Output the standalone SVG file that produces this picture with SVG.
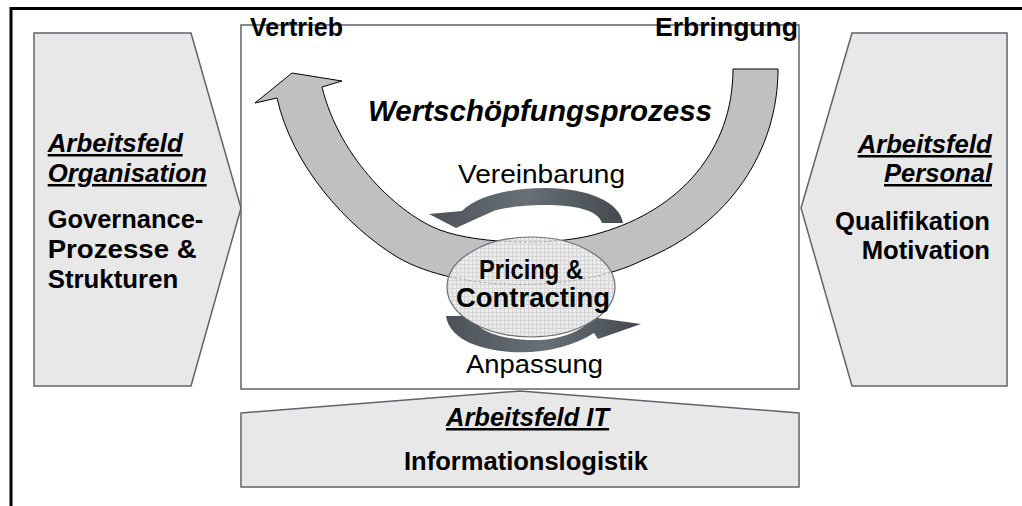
<svg xmlns="http://www.w3.org/2000/svg" width="1022" height="506" viewBox="0 0 1022 506">
<style>
.frame{fill:none;stroke:#000;stroke-width:3}
.field{fill:#e8e8e8;stroke:#5f6468;stroke-width:1.5}
.box{fill:#fff;stroke:#5f6468;stroke-width:1.5}
.band{fill:#c0c0c0;stroke:#000;stroke-width:1}
.rot{fill:url(#rotg);stroke:none}
.t{font-family:"Liberation Sans",Arial,sans-serif;fill:#000}
.b{font-weight:bold}
.bi{font-weight:bold;font-style:italic}
.u{text-decoration:underline}
</style>
<defs>
<pattern id="grid" width="4" height="4" patternUnits="userSpaceOnUse">
<rect width="4" height="4" fill="#ececec"/>
<path d="M0 0.5H4M0.5 0V4" stroke="#d6d6d6" stroke-width="1"/>
</pattern>
<linearGradient id="rotg" x1="0" y1="0" x2="1" y2="0">
<stop offset="0" stop-color="#4c5257"/>
<stop offset="0.5" stop-color="#687075"/>
<stop offset="1" stop-color="#444a4f"/>
</linearGradient>
<clipPath id="ellclip"><ellipse cx="531" cy="287" rx="84" ry="50"/></clipPath>
</defs>

<path class="frame" d="M11 506V8.5H1022"/>

<g id="node-organisation">
<polygon class="field" points="34,33 191,33 241,208 191,386 34,386"/>
<text class="t bi u" x="47.7" y="152" font-size="25" textLength="135" lengthAdjust="spacingAndGlyphs">Arbeitsfeld</text>
<text class="t bi u" x="47.7" y="182" font-size="25" textLength="159" lengthAdjust="spacingAndGlyphs">Organisation</text>
<text class="t b" x="47.7" y="228" font-size="25" textLength="155.6" lengthAdjust="spacingAndGlyphs">Governance-</text>
<text class="t b" x="47.7" y="258" font-size="25" textLength="149" lengthAdjust="spacingAndGlyphs">Prozesse &amp;</text>
<text class="t b" x="47.7" y="288" font-size="25" textLength="130.6" lengthAdjust="spacingAndGlyphs">Strukturen</text>
</g>

<g id="node-personal">
<polygon class="field" points="1007,33 852,33 801,208 852,386 1007,386"/>
<text class="t bi u" x="857.7" y="153" font-size="25" textLength="134" lengthAdjust="spacingAndGlyphs">Arbeitsfeld</text>
<text class="t bi u" x="884" y="182" font-size="25" textLength="108" lengthAdjust="spacingAndGlyphs">Personal</text>
<text class="t b" x="835" y="230" font-size="25" textLength="155" lengthAdjust="spacingAndGlyphs">Qualifikation</text>
<text class="t b" x="861.7" y="259" font-size="25" textLength="128.3" lengthAdjust="spacingAndGlyphs">Motivation</text>
</g>

<g id="node-wertschoepfung">
<rect class="box" x="241" y="25" width="558" height="364"/>
<text class="t b" x="250" y="36" font-size="25" textLength="93" lengthAdjust="spacingAndGlyphs">Vertrieb</text>
<text class="t b" x="655" y="36" font-size="25" textLength="143" lengthAdjust="spacingAndGlyphs">Erbringung</text>
<text class="t bi" x="368" y="121" font-size="29" textLength="344" lengthAdjust="spacingAndGlyphs">Wertschöpfungsprozess</text>
</g>

<g id="node-it">
<polygon class="field" points="241,413 520,391 799,413 799,487 241,487"/>
<text class="t bi u" x="446" y="426" font-size="25" textLength="163" lengthAdjust="spacingAndGlyphs">Arbeitsfeld IT</text>
<text class="t b" x="404" y="470" font-size="25" textLength="244" lengthAdjust="spacingAndGlyphs">Informationslogistik</text>
</g>

<g id="connectors">
<path id="process-arrow" class="band" d="M778,69 C778,150 730,225 643,260 C580,292 460,294 397,257 C345,225 292,165 277,98 L255,103 L292,73 L342,81 L322,87 C340,160 400,215 440,230 C480,245 560,246 600,233 C680,210 733,150 733,69 Z"/>
<path id="arrow-vereinbarung" class="rot" d="M429,214 L462,211 C478,195 512,188 545,188 C588,188 620,202 623,223 L602,223 C598,210 575,205 545,205 C522,205 503,208 492,211 L498,209 L456,228 Z"/>
<path id="arrow-anpassung" class="rot" d="M446,316 L471,316 C478,334 510,341 540,340 C560,339 576,333 587,324 L583,316 L641,324 L598,339 L594,333 C572,347 542,354 510,352 C474,349 449,337 446,316 Z"/>
</g>

<g id="node-pricing">
<ellipse cx="531" cy="287" rx="84" ry="50" fill="url(#grid)" stroke="#6a6f73" stroke-width="1.2"/>
<g clip-path="url(#ellclip)" fill="none" stroke="#a8a8a8" stroke-width="1" stroke-dasharray="3 2">
<path d="M643,260 C580,292 460,294 397,257"/>
<path d="M440,230 C480,245 560,246 600,233"/>
</g>
<text class="t b" x="479" y="279" font-size="27" textLength="104" lengthAdjust="spacingAndGlyphs">Pricing &amp;</text>
<text class="t b" x="456" y="307" font-size="27" textLength="154" lengthAdjust="spacingAndGlyphs">Contracting</text>
</g>

<g id="labels">
<text class="t" x="458" y="183" font-size="26" textLength="167" lengthAdjust="spacingAndGlyphs">Vereinbarung</text>
<text class="t" x="466" y="373" font-size="26" textLength="137" lengthAdjust="spacingAndGlyphs">Anpassung</text>
</g>
</svg>
